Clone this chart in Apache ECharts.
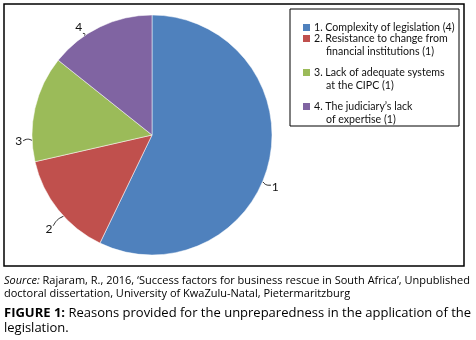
<!DOCTYPE html>
<html>
<head>
<meta charset="utf-8">
<script src="https://cdn.jsdelivr.net/npm/echarts@6/dist/echarts.min.js"></script>
<style>
  html, body { margin: 0; padding: 0; background: #fff; }
  #chart { width: 476px; height: 340px; }
</style>
</head>
<body>
<div id="chart"></div>
<script>
// reasons and number of responses
var reasons = [
  "1. Complexity of legislation (4)",
  "2. Resistance to change from\nfinancial institutions (1)",
  "3. Lack of adequate systems\nat the CIPC (1)",
  "4. The judiciary\u2019s lack\nof expertise (1)"
];
var counts = [4, 1, 1, 1];
var sliceLabels = ["1", "2", "3", "4"];
var colors = ["#4F81BD", "#C0504D", "#9BBB59", "#8064A2"];
// nudges so the slice numbers sit where the original had them
var labelNudge = [[-14, 24], [10, 16], [4, 34], [-4, 6]];

var sourceItalic = "Source";
var sourceText = ": Rajaram, R., 2016, \u2018Success factors for business rescue in South Africa\u2019, Unpublished";
var sourceText2 = "doctoral dissertation, University of KwaZulu-Natal, Pietermaritzburg";
var figureBold = "FIGURE 1:";
var figureTitle = " Reasons provided for the unpreparedness in the application of the";
var figureTitle2 = "legislation.";

var font = "Lato, 'Open Sans', sans-serif";
var capFont = "'Open Sans', sans-serif";
var pieCenter = [152, 135];
var pieRadius = 120;

var pieData = [];
for (var i = 0; i < counts.length; i++) {
  pieData.push({
    name: reasons[i],
    value: counts[i],
    itemStyle: { color: colors[i] },
    label: { formatter: sliceLabels[i] }
  });
}

// legend text: second line indented
function legendFmt(name) {
  var parts = name.split("\n");
  if (parts.length === 1) return "{a|" + parts[0] + "}";
  return "{a|" + parts[0] + "}\n{b|" + parts[1] + "}";
}
var legendRich = {
  a: { fontFamily: font, fontSize: 10.6, color: "#111", lineHeight: 13 },
  b: { fontFamily: font, fontSize: 10.6, color: "#111", lineHeight: 13, padding: [0, 0, 0, 12] }
};

// spread a line over a given width (justified text) using rich tokens
var ctx = document.createElement("canvas").getContext("2d");
function measure(txt, css) {
  ctx.font = css;
  return ctx.measureText(txt).width;
}
function justify(first, firstCss, rest, restCss, width, firstStyle, restStyle) {
  var words = rest.trim().split(" ");
  var natural = measure(first, firstCss) + measure(" " + rest.trim(), restCss);
  var extra = Math.max(0, (width - natural) / words.length);
  var sp = measure(" ", restCss);
  var out = "{" + firstStyle + "|" + first + "}";
  for (var k = 0; k < words.length; k++) {
    out += "{gap|}" + "{" + restStyle + "|" + words[k] + "}";
  }
  return { text: out, gap: sp + extra };
}

var srcSize = 11;
var figSize = 13;
var srcJ = justify(sourceItalic + ":", "italic " + srcSize + "px 'Open Sans'", sourceText.replace(/^: /, ""), srcSize + "px 'Open Sans'", 459, "i", "r");
var figJ = justify(figureBold, "bold " + figSize + "px 'Open Sans'", figureTitle, figSize + "px 'Open Sans'", 459, "b", "r");

// leader line from the slice edge to the moved label
function leader(params) {
  var n = labelNudge[params.dataIndex];
  var lr = params.labelRect;
  var cx = lr.x + lr.width / 2 + n[0];
  var cy = lr.y + lr.height / 2 + n[1];
  var vx = cx - pieCenter[0], vy = cy - pieCenter[1];
  var len = Math.sqrt(vx * vx + vy * vy);
  var ux = vx / len, uy = vy / len;
  var start = [pieCenter[0] + ux * pieRadius, pieCenter[1] + uy * pieRadius];
  var t = Math.min(lr.width / 2 / Math.max(Math.abs(ux), 1e-6), lr.height / 2 / Math.max(Math.abs(uy), 1e-6)) + 1;
  var end = [cx - ux * t, cy - uy * t];
  var mid = [(start[0] + end[0]) / 2 - uy * 2, (start[1] + end[1]) / 2 + ux * 2];
  return [start, mid, end];
}

var myChart = echarts.init(document.getElementById("chart"));
var option = {
  animation: false,
  color: colors,
  legend: [
    {
      data: [reasons[0]],
      orient: "vertical",
      left: 296,
      top: 17,
      itemWidth: 9,
      itemHeight: 9,
      icon: "rect",
      itemGap: 0,
      formatter: legendFmt,
      textStyle: { rich: legendRich, padding: [0, 0, 0, -2] }
    },
    {
      data: reasons.slice(1),
      orient: "vertical",
      left: 296,
      top: 26,
      itemWidth: 9,
      itemHeight: 26,
      icon: "path://M0 2H9V11H0Z M0 0 M0 26",
      itemGap: 6,
      formatter: legendFmt,
      textStyle: { rich: legendRich, padding: [0, 0, 0, -2] }
    }
  ],
  graphic: [
    {
      type: "rect",
      shape: { x: 4, y: 4, width: 460, height: 262 },
      style: { fill: "none", stroke: "#000", lineWidth: 1.5 },
      z: -1
    },
    {
      type: "rect",
      shape: { x: 290, y: 9, width: 169, height: 117 },
      style: { fill: "none", stroke: "#000", lineWidth: 1 },
      z: -1
    },
    {
      type: "text",
      left: 4,
      top: 275,
      style: {
        text: srcJ.text + "\n{r|" + sourceText2 + "}",
        rich: {
          i: { fontFamily: capFont, fontSize: srcSize, fontStyle: "italic", color: "#222", lineHeight: 13 },
          r: { fontFamily: capFont, fontSize: srcSize, color: "#222", lineHeight: 13 },
          gap: { width: srcJ.gap, lineHeight: 13 }
        }
      }
    },
    {
      type: "text",
      left: 4,
      top: 307,
      style: {
        text: figJ.text + "\n{r|" + figureTitle2 + "}",
        rich: {
          b: { fontFamily: capFont, fontSize: figSize, fontWeight: "bold", color: "#222", lineHeight: 15 },
          r: { fontFamily: capFont, fontSize: figSize, color: "#333", lineHeight: 15 },
          gap: { width: figJ.gap, lineHeight: 15 }
        }
      }
    }
  ],
  series: [
    {
      type: "pie",
      center: pieCenter,
      radius: pieRadius,
      startAngle: 90,
      clockwise: true,
      data: pieData,
      itemStyle: { borderColor: "#fff", borderWidth: 0.5 },
      label: {
        show: true,
        position: "outside",
        fontFamily: font,
        fontSize: 12,
        color: "#111"
      },
      labelLine: {
        show: true,
        length: 6,
        length2: 6,
        smooth: 0.3,
        lineStyle: { color: "#222", width: 1 }
      },
      labelLayout: function (params) {
        var n = labelNudge[params.dataIndex];
        return { dx: n[0], dy: n[1], labelLinePoints: leader(params) };
      },
      emphasis: { disabled: true }
    }
  ]
};
myChart.setOption(option);
</script>
</body>
</html>
